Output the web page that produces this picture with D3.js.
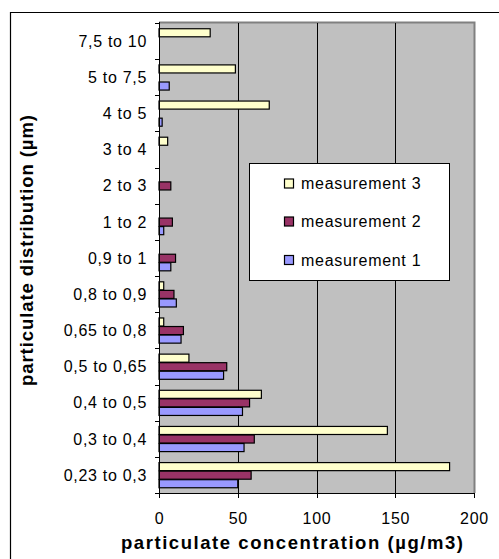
<!DOCTYPE html>
<html lang="en">
  <head>
    <meta charset="utf-8">
    <script src="https://cdn.jsdelivr.net/npm/d3@7"></script>
    <style>
      body {
        margin: 0;
        background: #fff;
      }
      svg {
        display: block;
        font-family: Arial, 'Liberation Sans', sans-serif;
      }
      .tick-label {
        font-size: 16px;
        letter-spacing: 0.7px;
        fill: #000;
      }
      .axis-title {
        font-size: 18.5px;
        font-weight: bold;
        fill: #000;
      }
    </style>
  </head>
  <body>
    <svg></svg>
  </body>
  <script>

    // Data (bottom category first)
    const categories = ['0,23 to 0,3', '0,3 to 0,4', '0,4 to 0,5', '0,5 to 0,65', '0,65 to 0,8',
      '0,8 to 0,9', '0,9 to 1', '1 to 2', '2 to 3', '3 to 4', '4 to 5', '5 to 7,5', '7,5 to 10'];
    const measurement1 = [50, 54, 53, 41, 14, 11, 7.5, 3, null, null, 2, 6.5, null];
    const measurement2 = [58.5, 60.5, 57.5, 43, 15.5, 9.5, 10.5, 8.5, 7.5, null, null, null, null];
    const measurement3 = [184.5, 145, 65, 19, 3, 3, null, null, null, 5.5, 70, 48.5, 32.5];
    const seriesNames = ['measurement 3', 'measurement 2', 'measurement 1'];
    const xTicks = [0, 50, 100, 150, 200];

    const series = [
      { name: 'measurement 3', values: measurement3, color: '#FFFFCC' },
      { name: 'measurement 2', values: measurement2, color: '#993366' },
      { name: 'measurement 1', values: measurement1, color: '#9999FF' }
    ];

    // Initialize svg
    const width = 499;
    const height = 559;
    const plot = { left: 159, top: 23, right: 474, bottom: 493 };

    const svg = d3.select('svg')
        .attr('width', width)
        .attr('height', height);

    // Chart frame (only top and left visible)
    svg.append('path')
        .attr('d', 'M10.5,' + height + 'V12.5H' + width)
        .attr('fill', 'none')
        .attr('stroke', '#000')
        .attr('stroke-width', 1.2);

    // Scales
    const x = d3.scaleLinear()
        .domain([0, 200])
        .range([plot.left, plot.right]);

    const y = d3.scaleBand()
        .domain(categories.slice().reverse())
        .range([plot.top, plot.bottom])
        .paddingInner(0.29)
        .paddingOuter(0.145);

    const ySub = d3.scaleBand()
        .domain(seriesNames)
        .range([0, y.bandwidth()]);

    // Plot area
    svg.append('rect')
        .attr('x', plot.left)
        .attr('y', plot.top)
        .attr('width', plot.right - plot.left)
        .attr('height', plot.bottom - plot.top)
        .attr('fill', '#C0C0C0');

    svg.append('path')
        .attr('d', 'M' + plot.left + ',' + (plot.top - 0.5) + 'H' + (plot.right + 0.5) + 'V' + plot.bottom)
        .attr('fill', 'none')
        .attr('stroke', '#808080')
        .attr('stroke-width', 2);

    // Gridlines
    svg.append('g')
      .selectAll('line')
        .data(xTicks.filter(d => d > 0 && d < 200))
      .enter().append('line')
        .attr('x1', d => Math.round(x(d)) + 0.5)
        .attr('x2', d => Math.round(x(d)) + 0.5)
        .attr('y1', plot.top)
        .attr('y2', plot.bottom)
        .attr('stroke', '#000')
        .attr('stroke-width', 1);

    // Bars
    const groups = svg.append('g')
      .selectAll('g')
        .data(series)
      .enter().append('g')
        .attr('fill', d => d.color);

    groups.selectAll('rect')
        .data(s => s.values.map((v, i) => ({ name: s.name, cat: categories[i], value: v }))
          .filter(d => d.value !== null))
      .enter().append('rect')
        .attr('x', x(0))
        .attr('y', d => y(d.cat) + ySub(d.name) + 0.5)
        .attr('width', d => x(d.value) - x(0))
        .attr('height', ySub.bandwidth() - 0.5)
        .attr('stroke', '#000')
        .attr('stroke-width', 1.2);

    // X axis
    const xAxis = svg.append('g');
    xAxis.append('line')
        .attr('x1', plot.left)
        .attr('x2', plot.right + 1)
        .attr('y1', plot.bottom + 0.5)
        .attr('y2', plot.bottom + 0.5)
        .attr('stroke', '#000');
    xAxis.selectAll('.xtick')
        .data(xTicks)
      .enter().append('line')
        .attr('class', 'xtick')
        .attr('x1', d => Math.round(x(d)) + 0.5)
        .attr('x2', d => Math.round(x(d)) + 0.5)
        .attr('y1', plot.bottom)
        .attr('y2', plot.bottom + 5)
        .attr('stroke', '#000');
    xAxis.selectAll('text')
        .data(xTicks)
      .enter().append('text')
        .attr('class', 'tick-label')
        .attr('x', d => x(d) + 0.5)
        .attr('y', 524)
        .attr('text-anchor', 'middle')
        .text(d => d);

    // Y axis
    const yAxis = svg.append('g');
    yAxis.append('line')
        .attr('x1', plot.left + 0.5)
        .attr('x2', plot.left + 0.5)
        .attr('y1', plot.top - 1)
        .attr('y2', plot.bottom + 1)
        .attr('stroke', '#000');
    const bounds = categories.map(c => y(c) - y.step() * y.paddingOuter())
        .concat([plot.bottom]);
    yAxis.selectAll('.ytick')
        .data(bounds)
      .enter().append('line')
        .attr('class', 'ytick')
        .attr('x1', plot.left - 4)
        .attr('x2', plot.left)
        .attr('y1', d => Math.round(d) + 0.5)
        .attr('y2', d => Math.round(d) + 0.5)
        .attr('stroke', '#000');
    yAxis.selectAll('text')
        .data(categories)
      .enter().append('text')
        .attr('class', 'tick-label')
        .attr('x', 147)
        .attr('y', d => y(d) + y.bandwidth() / 2)
        .attr('dy', '0.36em')
        .attr('text-anchor', 'end')
        .text(d => d);

    // Axis titles
    svg.append('text')
        .attr('class', 'axis-title')
        .attr('x', 121)
        .attr('y', 549)
        .attr('textLength', 342)
        .attr('lengthAdjust', 'spacing')
        .text('particulate concentration (µg/m3)');

    svg.append('text')
        .attr('class', 'axis-title')
        .attr('transform', 'translate(33,386) rotate(-90)')
        .attr('textLength', 271)
        .attr('lengthAdjust', 'spacing')
        .text('particulate distribution (µm)');

    // Legend
    const legend = svg.append('g');
    legend.append('rect')
        .attr('x', 249.5)
        .attr('y', 163.5)
        .attr('width', 200)
        .attr('height', 117)
        .attr('fill', '#fff')
        .attr('stroke', '#000');

    const legendRows = [183.5, 221.5, 260];
    const items = legend.selectAll('.item')
        .data(series)
      .enter().append('g')
        .attr('class', 'item')
        .attr('transform', (d, i) => 'translate(284,' + legendRows[i] + ')');
    items.append('rect')
        .attr('x', 0.5)
        .attr('y', -4.5)
        .attr('width', 9)
        .attr('height', 9)
        .attr('fill', d => d.color)
        .attr('stroke', '#000')
        .attr('stroke-width', 1.2);
    items.append('text')
        .attr('class', 'tick-label')
        .attr('x', 17)
        .attr('dy', '0.36em')
        .text(d => d.name);
  </script>
</html>
